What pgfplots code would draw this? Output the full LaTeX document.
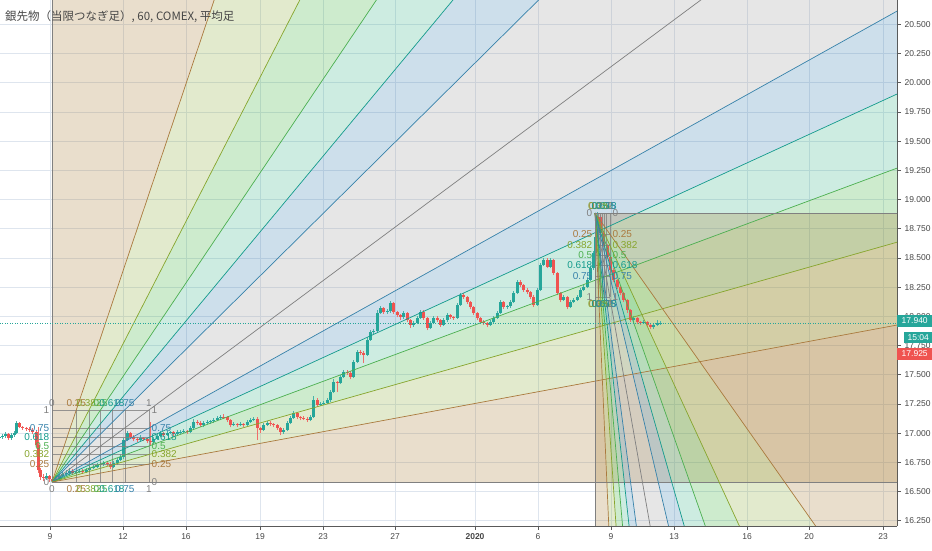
\documentclass[border=0pt]{standalone}
\usepackage{pgfplots}
\pgfplotsset{compat=1.18}
\usepackage{pgfplotstable}
\usepackage{fontspec}
\setmainfont{Liberation Sans}
\newfontfamily\cjk{Noto Sans CJK JP}

% line colours of the fan levels
\definecolor{c25}{RGB}{170,122,62}
\definecolor{c382}{RGB}{135,165,45}
\definecolor{c5}{RGB}{76,175,80}
\definecolor{c618}{RGB}{20,155,140}
\definecolor{c75}{RGB}{55,130,170}
\definecolor{c1}{RGB}{128,128,128}
% fill colours of the fan levels
\definecolor{f25}{RGB}{167,123,51}
\definecolor{f382}{RGB}{139,171,55}
\definecolor{f5}{RGB}{55,175,55}
\definecolor{f618}{RGB}{55,179,135}
\definecolor{f75}{RGB}{55,127,175}
\definecolor{f1}{RGB}{155,155,155}
\definecolor{upc}{RGB}{38,166,154}
\definecolor{dnc}{RGB}{239,83,80}
\definecolor{gridc}{RGB}{222,229,238}
\definecolor{axc}{RGB}{90,90,90}
\definecolor{txt}{RGB}{70,70,70}

% hourly Heikin-Ashi candles, x = position on the time axis
\pgfplotstableread{
x o h l c
0 16.958 16.990 16.940 16.967
3 16.967 16.995 16.950 16.975
6 16.975 17.010 16.960 16.992
9 16.992 17.005 16.940 16.958
12 16.958 17.000 16.945 16.984
15 16.984 17.020 16.970 17.001
17 17.001 17.100 16.990 17.086
20 17.086 17.095 17.040 17.052
23 17.052 17.065 17.030 17.044
27 17.044 17.055 17.020 17.035
30 17.035 17.050 17.010 17.027
33 17.027 17.040 16.990 17.009
37 17.009 17.020 16.880 16.898
39 16.898 17.050 16.660 16.684
41 16.684 16.700 16.600 16.624
44 16.624 16.650 16.590 16.616
47 16.616 16.660 16.600 16.633
50 16.633 16.645 16.580 16.607
53 16.607 16.620 16.570 16.590
56 16.590 16.630 16.575 16.607
60 16.607 16.650 16.590 16.633
63 16.633 16.670 16.620 16.650
67 16.650 16.680 16.640 16.658
70 16.658 16.700 16.645 16.676
73 16.676 16.690 16.640 16.658
77 16.658 16.685 16.645 16.667
80 16.667 16.695 16.655 16.676
83 16.676 16.690 16.650 16.667
87 16.667 16.700 16.655 16.684
90 16.684 16.720 16.670 16.701
93 16.701 16.730 16.690 16.710
97 16.710 16.745 16.700 16.727
100 16.727 16.750 16.710 16.733
103 16.733 16.765 16.715 16.744
107 16.744 16.760 16.720 16.735
110 16.735 16.750 16.695 16.710
113 16.710 16.760 16.700 16.744
117 16.744 16.790 16.730 16.770
120 16.770 16.820 16.760 16.795
123 16.795 16.960 16.780 16.941
127 16.941 17.020 16.930 17.001
130 17.001 17.010 16.950 16.967
133 16.967 16.980 16.930 16.950
137 16.950 16.965 16.920 16.941
140 16.941 16.980 16.930 16.958
143 16.958 16.970 16.930 16.950
147 16.950 16.960 16.915 16.932
150 16.932 17.095 16.900 16.924
153 16.924 16.970 16.910 16.950
157 16.950 16.990 16.940 16.975
160 16.975 17.020 16.965 17.001
163 17.001 17.010 16.970 16.984
167 16.984 17.020 16.975 17.001
170 17.001 17.020 16.990 17.006
173 17.006 17.015 16.975 16.992
177 16.992 17.030 16.980 17.009
180 17.009 17.030 16.995 17.013
183 17.013 17.035 17.000 17.018
187 17.018 17.030 16.995 17.009
190 17.009 17.060 17.000 17.044
193 17.044 17.120 17.030 17.095
197 17.095 17.110 17.070 17.090
200 17.090 17.100 17.050 17.069
203 17.069 17.100 17.050 17.086
207 17.086 17.110 17.075 17.095
210 17.095 17.115 17.080 17.100
213 17.100 17.130 17.090 17.112
217 17.112 17.145 17.100 17.129
220 17.129 17.155 17.115 17.138
223 17.138 17.160 17.120 17.134
227 17.134 17.145 17.095 17.112
230 17.112 17.125 17.050 17.069
233 17.069 17.095 17.060 17.078
237 17.078 17.090 17.050 17.069
240 17.069 17.095 17.060 17.078
243 17.078 17.090 17.050 17.069
247 17.069 17.110 17.060 17.095
250 17.095 17.130 17.085 17.112
253 17.112 17.140 17.100 17.121
257 17.121 17.135 16.940 17.044
260 17.044 17.050 17.000 17.027
263 17.027 17.085 17.015 17.069
267 17.069 17.100 17.060 17.086
270 17.086 17.100 17.060 17.078
273 17.078 17.090 17.050 17.069
277 17.069 17.080 17.030 17.044
280 17.044 17.055 16.980 17.009
283 17.009 17.045 16.995 17.027
287 17.027 17.100 17.015 17.086
290 17.086 17.145 17.075 17.129
293 17.129 17.190 17.120 17.172
297 17.172 17.180 17.120 17.138
300 17.138 17.150 17.110 17.129
303 17.129 17.145 17.110 17.125
307 17.125 17.135 17.095 17.112
310 17.112 17.155 17.100 17.138
313 17.138 17.320 17.130 17.283
317 17.283 17.300 17.225 17.241
320 17.241 17.265 17.230 17.249
323 17.249 17.275 17.240 17.258
327 17.258 17.300 17.245 17.283
330 17.283 17.370 17.270 17.352
333 17.352 17.460 17.340 17.438
337 17.438 17.450 17.350 17.429
340 17.429 17.500 17.420 17.480
343 17.480 17.540 17.470 17.523
347 17.523 17.540 17.500 17.515
350 17.515 17.530 17.460 17.480
353 17.480 17.630 17.470 17.609
357 17.609 17.715 17.600 17.694
360 17.694 17.710 17.670 17.686
363 17.686 17.700 17.600 17.669
367 17.669 17.820 17.660 17.797
370 17.797 17.885 17.790 17.866
373 17.866 17.890 17.850 17.871
377 17.871 18.050 17.860 18.028
380 18.028 18.090 18.020 18.071
383 18.071 18.080 18.020 18.037
387 18.037 18.060 18.020 18.042
390 18.042 18.130 18.030 18.114
393 18.114 18.125 18.020 18.037
397 18.037 18.045 17.990 18.011
400 18.011 18.020 17.970 17.994
403 17.994 18.045 17.980 18.028
407 18.028 18.040 17.950 17.968
410 17.968 17.980 17.900 17.926
413 17.926 17.960 17.910 17.943
417 17.943 18.000 17.930 17.985
420 17.985 18.055 17.975 18.037
423 18.037 18.050 17.970 17.985
427 17.985 17.995 17.880 17.900
430 17.900 17.960 17.890 17.943
433 17.943 18.000 17.930 17.985
437 17.985 18.000 17.950 17.968
440 17.968 17.980 17.910 17.926
443 17.926 17.985 17.915 17.968
447 17.968 18.030 17.955 18.011
450 18.011 18.020 17.980 17.994
453 17.994 18.005 17.970 17.985
457 17.985 18.115 17.975 18.097
460 18.097 18.200 18.090 18.182
463 18.182 18.200 18.150 18.165
467 18.165 18.175 18.105 18.122
470 18.122 18.135 18.060 18.080
473 18.080 18.090 18.010 18.028
477 18.028 18.040 17.965 17.985
480 17.985 17.995 17.935 17.951
483 17.951 17.965 17.925 17.943
487 17.943 17.955 17.905 17.926
490 17.926 17.970 17.915 17.951
493 17.951 18.000 17.940 17.985
497 17.985 18.045 17.975 18.028
500 18.028 18.140 18.020 18.122
503 18.122 18.135 18.065 18.080
507 18.080 18.100 18.065 18.085
510 18.085 18.140 18.075 18.122
513 18.122 18.220 18.110 18.200
517 18.200 18.310 18.190 18.294
520 18.294 18.310 18.250 18.268
523 18.268 18.280 18.210 18.225
527 18.225 18.240 18.190 18.208
530 18.208 18.220 18.150 18.165
533 18.165 18.180 18.080 18.097
537 18.097 18.240 18.090 18.225
540 18.225 18.460 18.215 18.439
543 18.439 18.500 18.430 18.482
547 18.482 18.500 18.410 18.422
550 18.422 18.500 18.410 18.482
553 18.482 18.490 18.355 18.371
557 18.371 18.380 18.180 18.200
560 18.200 18.210 18.120 18.140
563 18.140 18.180 18.130 18.165
567 18.165 18.175 18.060 18.080
570 18.080 18.140 18.070 18.122
573 18.122 18.155 18.110 18.140
577 18.140 18.180 18.130 18.165
580 18.165 18.240 18.155 18.225
583 18.225 18.270 18.215 18.251
587 18.251 18.330 18.240 18.311
590 18.311 18.430 18.300 18.414
593 18.414 18.560 18.400 18.542
595 18.542 18.700 18.530 18.679
597 18.679 18.890 18.670 18.850
600 18.850 18.870 18.690 18.713
603 18.713 18.730 18.590 18.610
607 18.610 18.620 18.490 18.508
610 18.508 18.520 18.370 18.396
613 18.396 18.410 18.290 18.311
617 18.311 18.320 18.230 18.251
620 18.251 18.260 18.180 18.200
623 18.200 18.210 18.120 18.140
627 18.140 18.150 18.030 18.054
630 18.054 18.060 17.950 17.968
633 17.968 18.000 17.955 17.985
637 17.985 17.995 17.935 17.951
640 17.951 17.960 17.925 17.943
643 17.943 17.965 17.930 17.948
647 17.948 17.960 17.910 17.926
650 17.926 17.935 17.890 17.908
653 17.908 17.940 17.895 17.926
657 17.926 17.965 17.915 17.940
660 17.940 17.960 17.925 17.945
}\candles

\pgfplotsset{
  wedge/.style={draw=none, fill=#1, fill opacity=0.25, forget plot},
  ray/.style={#1, line width=0.7pt, forget plot},
  candle/.style 2 args={draw=none, mark=none, forget plot,
    error bars/.cd, y dir=plus, y explicit, error mark=none,
    error bar style={draw=#1, line width=#2}, /pgfplots/.cd},
}
\tikzset{glab/.style={font=\fontsize{10}{10}\selectfont, inner xsep=2.5pt, inner ysep=3.5pt}}

% level labels round the two Gann boxes
\newcommand\glabA[3]{%
  \node[glab,text=#2,anchor=south] at (axis cs:{52+97*#1},17.198) {#3};
  \node[glab,text=#2,anchor=north] at (axis cs:{52+97*#1},16.581) {#3};
  \node[glab,text=#2,anchor=east] at (axis cs:52,{16.581+0.617*#1}) {#3};
  \node[glab,text=#2,anchor=west] at (axis cs:149,{16.581+0.617*#1}) {#3};}
\newcommand\glabB[3]{%
  \node[glab,text=#2,anchor=south] at (axis cs:{595+14.8*#1},18.884) {#3};
  \node[glab,text=#2,anchor=north] at (axis cs:{595+14.8*#1},18.165) {#3};
  \node[glab,text=#2,anchor=east] at (axis cs:595,{18.884-0.719*#1}) {#3};
  \node[glab,text=#2,anchor=west] at (axis cs:609.8,{18.884-0.719*#1}) {#3};}

\begin{document}
\begin{tikzpicture}
\useasboundingbox (0,0) rectangle (932pt,550pt);
\begin{axis}[
  at={(0pt,24pt)}, anchor=south west,
  scale only axis, width=897pt, height=526pt,
  xmin=0, xmax=897, ymin=16.205, ymax=20.708,
  clip mode=individual,
  axis x line*=bottom, axis y line*=right,
  axis line style={axc, line width=0.8pt},
  tick align=outside, major tick length=4pt,
  tick style={axc, line width=0.6pt},
  grid=major, major grid style={gridc, line width=0.6pt},
  xtick={50,123,186,260,323,395,475,538,611,674,747,809,883},
  xticklabels={9,12,16,19,23,27,\textbf{2020},6,9,13,16,20,23},
  ytick={16.25,16.5,16.75,17,17.25,17.5,17.75,18,18.25,18.5,18.75,19,19.25,19.5,19.75,20,20.25,20.5},
  yticklabels={16.250,16.500,16.750,17.000,17.250,17.500,17.750,18.000,18.250,18.500,18.750,19.000,19.250,19.500,19.750,20.000,20.250,20.500},
  ticklabel style={font=\fontsize{8.5}{10}\selectfont, text=txt},
  /pgf/number format/assume math mode=true,
]
% first fan, from the low of the 9th
\addplot[wedge=f25] coordinates {(52,16.581) (52,22.751) (294.5,22.751)};
\addplot[wedge=f382] coordinates {(52,16.581) (294.5,22.751) (422.5,22.751)};
\addplot[wedge=f5] coordinates {(52,16.581) (422.5,22.751) (537,22.751)};
\addplot[wedge=f618] coordinates {(52,16.581) (537,22.751) (651.5,22.751)};
\addplot[wedge=f75] coordinates {(52,16.581) (651.5,22.751) (779.5,22.751)};
\addplot[wedge=f1] coordinates {(52,16.581) (779.5,22.751) (1022,22.751)};
\addplot[wedge=f1] coordinates {(52,16.581) (1022,22.751) (1022,21.209)};
\addplot[wedge=f75] coordinates {(52,16.581) (1022,21.209) (1022,20.394)};
\addplot[wedge=f618] coordinates {(52,16.581) (1022,20.394) (1022,19.666)};
\addplot[wedge=f5] coordinates {(52,16.581) (1022,19.666) (1022,18.938)};
\addplot[wedge=f382] coordinates {(52,16.581) (1022,18.938) (1022,18.124)};
\addplot[wedge=f25] coordinates {(52,16.581) (1022,18.124) (1022,16.581)};
% second fan, from the top of the 8th
\addplot[wedge=f25] coordinates {(595,18.884) (1039,18.884) (1039,13.492)};
\addplot[wedge=f382] coordinates {(595,18.884) (1039,13.492) (1039,10.644)};
\addplot[wedge=f5] coordinates {(595,18.884) (1039,10.644) (1039,8.099)};
\addplot[wedge=f618] coordinates {(595,18.884) (1039,8.099) (1039,5.554)};
\addplot[wedge=f75] coordinates {(595,18.884) (1039,5.554) (1039,2.707)};
\addplot[wedge=f1] coordinates {(595,18.884) (1039,2.707) (1039,-2.686)};
\addplot[wedge=f1] coordinates {(595,18.884) (1039,-2.686) (928,-2.686)};
\addplot[wedge=f75] coordinates {(595,18.884) (928,-2.686) (869.4,-2.686)};
\addplot[wedge=f618] coordinates {(595,18.884) (869.4,-2.686) (817,-2.686)};
\addplot[wedge=f5] coordinates {(595,18.884) (817,-2.686) (764.6,-2.686)};
\addplot[wedge=f382] coordinates {(595,18.884) (764.6,-2.686) (706,-2.686)};
\addplot[wedge=f25] coordinates {(595,18.884) (706,-2.686) (595,-2.686)};

% candles: wicks, then bodies
\addplot[restrict expr to domain={\thisrow{c}-\thisrow{o}}{0:10},
  candle={upc!85}{1pt}]
  table[x=x, y=l, y error expr=\thisrow{h}-\thisrow{l}] {\candles};
\addplot[restrict expr to domain={\thisrow{c}-\thisrow{o}}{-10:0},
  candle={dnc!85}{1pt}]
  table[x=x, y=l, y error expr=\thisrow{h}-\thisrow{l}] {\candles};
\addplot[restrict expr to domain={\thisrow{c}-\thisrow{o}}{0:10},
  candle={upc}{3pt}]
  table[x=x, y=o, y error expr=\thisrow{c}-\thisrow{o}] {\candles};
\addplot[restrict expr to domain={\thisrow{c}-\thisrow{o}}{-10:0},
  candle={dnc}{3pt}]
  table[x=x, y=c, y error expr=\thisrow{o}-\thisrow{c}] {\candles};

% box grids
\pgfplotsinvokeforeach{0,0.25,0.382,0.5,0.618,0.75,1}{
  \draw[c1, line width=0.5pt, opacity=0.8] (axis cs:{52+97*#1},16.581) -- (axis cs:{52+97*#1},17.198);
  \draw[c1, line width=0.5pt, opacity=0.8] (axis cs:52,{16.581+0.617*#1}) -- (axis cs:149,{16.581+0.617*#1});
  \draw[c1, line width=0.5pt, opacity=0.8] (axis cs:{595+14.8*#1},18.884) -- (axis cs:{595+14.8*#1},18.165);
  \draw[c1, line width=0.5pt, opacity=0.8] (axis cs:595,{18.884-0.719*#1}) -- (axis cs:609.8,{18.884-0.719*#1});
}

% rays of the first fan
\addplot[ray=c1] coordinates {(52,16.581) (52,22.751)};
\addplot[ray=c25] coordinates {(52,16.581) (294.5,22.751)};
\addplot[ray=c382] coordinates {(52,16.581) (422.5,22.751)};
\addplot[ray=c5] coordinates {(52,16.581) (537,22.751)};
\addplot[ray=c618] coordinates {(52,16.581) (651.5,22.751)};
\addplot[ray=c75] coordinates {(52,16.581) (779.5,22.751)};
\addplot[ray=c1] coordinates {(52,16.581) (1022,22.751)};
\addplot[ray=c75] coordinates {(52,16.581) (1022,21.209)};
\addplot[ray=c618] coordinates {(52,16.581) (1022,20.394)};
\addplot[ray=c5] coordinates {(52,16.581) (1022,19.666)};
\addplot[ray=c382] coordinates {(52,16.581) (1022,18.938)};
\addplot[ray=c25] coordinates {(52,16.581) (1022,18.124)};
\addplot[ray=c1] coordinates {(52,16.581) (1022,16.581)};
% rays of the second fan
\addplot[ray=c1] coordinates {(595,18.884) (1039,18.884)};
\addplot[ray=c25] coordinates {(595,18.884) (1039,13.492)};
\addplot[ray=c382] coordinates {(595,18.884) (1039,10.644)};
\addplot[ray=c5] coordinates {(595,18.884) (1039,8.099)};
\addplot[ray=c618] coordinates {(595,18.884) (1039,5.554)};
\addplot[ray=c75] coordinates {(595,18.884) (1039,2.707)};
\addplot[ray=c1] coordinates {(595,18.884) (1039,-2.686)};
\addplot[ray=c75] coordinates {(595,18.884) (928,-2.686)};
\addplot[ray=c618] coordinates {(595,18.884) (869.4,-2.686)};
\addplot[ray=c5] coordinates {(595,18.884) (817,-2.686)};
\addplot[ray=c382] coordinates {(595,18.884) (764.6,-2.686)};
\addplot[ray=c25] coordinates {(595,18.884) (706,-2.686)};
\addplot[ray=c1] coordinates {(595,18.884) (595,-2.686)};

% last price line
\addplot[upc, line width=0.7pt, dash pattern=on 1pt off 1.5pt, forget plot] coordinates {(0,17.94) (897,17.94)};

\glabA{0}{c1}{0}
\glabA{0.25}{c25}{0.25}
\glabA{0.382}{c382}{0.382}
\glabA{0.5}{c5}{0.5}
\glabA{0.618}{c618}{0.618}
\glabA{0.75}{c75}{0.75}
\glabA{1}{c1}{1}
\glabB{0}{c1}{0}
\glabB{0.25}{c25}{0.25}
\glabB{0.382}{c382}{0.382}
\glabB{0.5}{c5}{0.5}
\glabB{0.618}{c618}{0.618}
\glabB{0.75}{c75}{0.75}
\glabB{1}{c1}{1}
\end{axis}

\node[anchor=west, text=txt, inner sep=0pt, font=\cjk\fontsize{11.5}{14}\selectfont] at (5pt,533pt) {銀先物（当限つなぎ足）, 60, COMEX, 平均足};
\node[fill=upc, text=white, anchor=west, minimum width=35pt, minimum height=12pt, inner sep=0pt, font=\fontsize{8.5}{10}\selectfont] at (897pt,229pt) {17.940};
\node[fill=upc, text=white, anchor=west, minimum width=28pt, minimum height=11pt, inner sep=0pt, font=\fontsize{8.5}{10}\selectfont] at (904pt,212.5pt) {15:04};
\node[fill=dnc, text=white, anchor=west, minimum width=35pt, minimum height=12pt, inner sep=0pt, font=\fontsize{8.5}{10}\selectfont] at (897pt,196.5pt) {17.925};
\end{tikzpicture}
\end{document}
